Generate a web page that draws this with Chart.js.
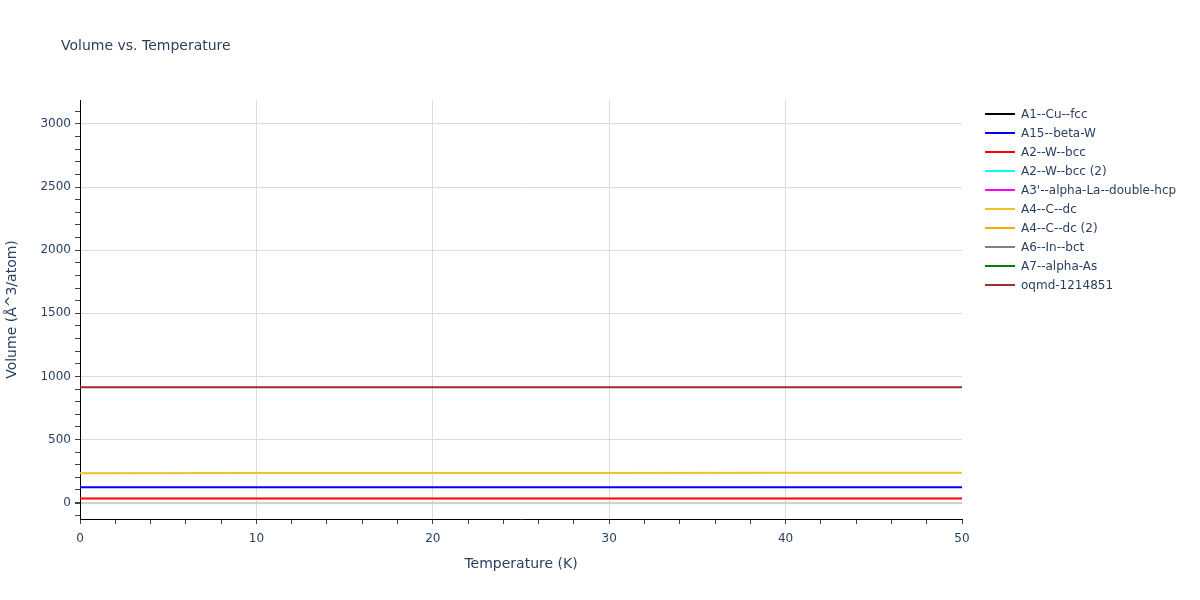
<!DOCTYPE html>
<html>
<head>
<meta charset="utf-8">
<script src="https://cdn.jsdelivr.net/npm/chart.js@4.4.1/dist/chart.umd.min.js"></script>
<style>
  body { margin: 0; background: #fff; }
  #wrap { position: relative; width: 1200px; height: 600px; font-family: "DejaVu Sans", Verdana, Arial, sans-serif; }
  #title { position: absolute; left: 61px; top: 35px; font-size: 14px; line-height: 20px; color: #2a3f5f; }
  #legend { position: absolute; left: 985px; top: 104px; font-size: 12px; color: #2a3f5f; }
  .item { height: 19px; display: flex; align-items: center; white-space: nowrap; }
  .swatch { width: 30px; height: 2px; margin-right: 6px; }
</style>
</head>
<body>
<div id="wrap">
  <canvas id="chart" width="1200" height="600"></canvas>
  <div id="title">Volume vs. Temperature</div>
  <div id="legend"></div>
</div>
<script>
// temperatures (K) where the volumes were read
const temps = [0, 10, 20, 30, 40, 50];

// volume per atom (Å^3/atom); empty = not visible
const volA1Cu = [];
const volA15W = [122, 122, 122, 122.5, 122.5, 122.5];
const volA2W = [31.5, 31.5, 31.5, 31.8, 31.8, 32];
const volA2W2 = [];
const volA3La = [];
const volA4C = [233, 233.5, 234, 235, 235.5, 236];
const volA4C2 = [];
const volA6In = [];
const volA7As = [];
const volOqmd = [913, 913, 913.5, 914, 914, 914.5];

const seriesNames = ['A1--Cu--fcc', 'A15--beta-W', 'A2--W--bcc', 'A2--W--bcc (2)', "A3'--alpha-La--double-hcp",
  'A4--C--dc', 'A4--C--dc (2)', 'A6--In--bct', 'A7--alpha-As', 'oqmd-1214851'];
const seriesValues = [volA1Cu, volA15W, volA2W, volA2W2, volA3La, volA4C, volA4C2, volA6In, volA7As, volOqmd];
const seriesColors = ['#000000', '#0000ff', '#ff0000', '#00ffff', '#ff00ff', '#f0c128', '#ffa500', '#808080', '#008000', '#a52a2a'];

// axis ticks
const xTickLabels = [0, 10, 20, 30, 40, 50];
const yTickLabels = [0, 500, 1000, 1500, 2000, 2500, 3000];
const xMinorStep = 2;
const yMinorStep = 100;

const textColor = '#2a3f5f';
const font = '"DejaVu Sans", Verdana, Arial, sans-serif';

const xTicks = [];
for (let v = 0; v <= 50; v += xMinorStep) xTicks.push(v);
const yTicks = [];
for (let v = -100; v <= 3100; v += yMinorStep) yTicks.push(v);

const datasets = seriesNames.map((name, i) => ({
  label: name,
  data: seriesValues[i].map((v, j) => ({ x: temps[j], y: v })),
  borderColor: seriesColors[i],
  backgroundColor: seriesColors[i],
  borderWidth: 2,
  pointRadius: 0,
  fill: false,
  tension: 0
}));

new Chart(document.getElementById('chart'), {
  type: 'line',
  data: { datasets },
  options: {
    responsive: false,
    animation: false,
    layout: { padding: { left: 0, top: 100, right: 238, bottom: 0 } },
    plugins: { legend: { display: false }, title: { display: false }, tooltip: { enabled: false } },
    scales: {
      x: {
        type: 'linear',
        min: 0,
        max: 50,
        afterBuildTicks: s => { s.ticks = xTicks.map(v => ({ value: v })); },
        afterFit: s => { s.height = 81; },
        ticks: {
          autoSkip: false,
          maxRotation: 0,
          padding: 8,
          color: textColor,
          font: { family: font, size: 12 },
          callback: v => xTickLabels.includes(v) ? String(v) : ''
        },
        grid: {
          color: c => (c.tick && xTickLabels.includes(c.tick.value) && c.tick.value > 0 && c.tick.value < 50) ? '#dcdcdc' : 'rgba(0,0,0,0)',
          tickColor: '#444',
          tickLength: 5,
          lineWidth: 1
        },
        border: { color: '#000', width: 1 },
        title: {
          display: true,
          text: 'Temperature (K)',
          color: textColor,
          font: { family: font, size: 14 },
          padding: { top: 0, bottom: 27 }
        }
      },
      y: {
        type: 'linear',
        min: -130,
        max: 3190,
        afterBuildTicks: s => { s.ticks = yTicks.map(v => ({ value: v })); },
        afterFit: s => { s.width = 80; },
        ticks: {
          autoSkip: false,
          padding: 4,
          color: textColor,
          font: { family: font, size: 12 },
          callback: v => yTickLabels.includes(v) ? String(v) : ''
        },
        grid: {
          color: c => {
            if (!c.tick) return 'rgba(0,0,0,0)';
            if (c.tick.value === 0) return '#d0d0d0';
            return yTickLabels.includes(c.tick.value) ? '#dcdcdc' : 'rgba(0,0,0,0)';
          },
          lineWidth: c => (c.tick && c.tick.value === 0) ? 2 : 1,
          tickColor: '#444',
          tickLength: 5
        },
        border: { color: '#000', width: 1 },
        title: {
          display: true,
          text: 'Volume (Å^3/atom)',
          color: textColor,
          font: { family: font, size: 14 },
          padding: { top: 4, bottom: 0 }
        }
      }
    }
  }
});

// legend built from the same series arrays
const legend = document.getElementById('legend');
seriesNames.forEach((name, i) => {
  const item = document.createElement('div');
  item.className = 'item';
  const sw = document.createElement('div');
  sw.className = 'swatch';
  sw.style.background = seriesColors[i];
  const label = document.createElement('span');
  label.textContent = name;
  item.appendChild(sw);
  item.appendChild(label);
  legend.appendChild(item);
});
</script>
</body>
</html>
